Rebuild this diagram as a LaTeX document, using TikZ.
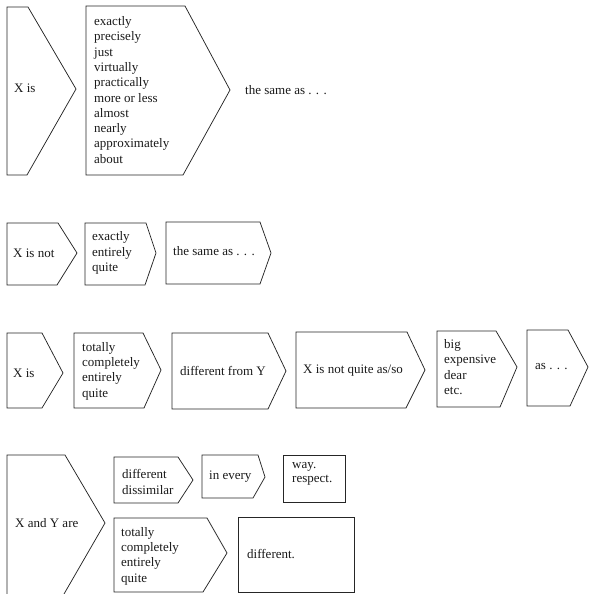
\documentclass[tikz,border=0pt]{standalone}
\usepackage{fontspec}
\setmainfont{Liberation Serif}
\usepackage{tikz}

\begin{document}
\begin{tikzpicture}[
	x=1pt, y=-1pt,
	font=\fontsize{13}{15.3}\selectfont,
	chevron/.style={draw=black!85, line width=0.75pt, line join=miter},
	word/.style={anchor=west, align=left, inner sep=0pt, text=black!90}
	]
	\useasboundingbox (0,0) rectangle (589,594);
	%% ─── ROW 1: X is ... the same as ──────────────────────────────────────
	\draw[chevron] (7,7) -- (28,7) -- (76,89) -- (27,175) -- (7,175) -- cycle;
	\draw[chevron] (86,6) -- (185,6) -- (230,90) -- (183,175) -- (86,175) -- cycle;
	\node[word] (xis1) at (14,88) {X is};
	\node[word] (adv1) at (94,90) {exactly\\precisely\\just\\virtually\\practically\\more or less\\almost\\nearly\\approximately\\about};
	\node[word] (same1) at (245,90) {the same as . . .};
	
	%% ─── ROW 2: X is not ... ──────────────────────────────────────────────
	\draw[chevron] (7,223) -- (58,223) -- (77,253) -- (57,285) -- (7,285) -- cycle;
	\draw[chevron] (85,223) -- (146,223) -- (156,253) -- (145,285) -- (85,285) -- cycle;
	\draw[chevron] (166,222) -- (260,222) -- (271,253) -- (260,284) -- (166,284) -- cycle;
	\node[word] (xisnot2) at (13,253) {X is not};
	\node[word] (adv2) at (92,253) {exactly\\entirely\\quite};
	\node[word] (same2) at (173,251) {the same as . . .};
	
	%% ─── ROW 3: X is different from Y ─────────────────────────────────────
	\draw[chevron] (7,333) -- (42,333) -- (63,373) -- (42,408) -- (7,408) -- cycle;
	\draw[chevron] (74,333) -- (143,333) -- (161,370) -- (144,408) -- (74,408) -- cycle;
	\draw[chevron] (172,333) -- (268,333) -- (286,371) -- (268,409) -- (172,409) -- cycle;
	\draw[chevron] (296,332) -- (407,332) -- (425,370) -- (406,408) -- (296,408) -- cycle;
	\draw[chevron] (437,331) -- (496,331) -- (517,367) -- (500,407) -- (437,407) -- cycle;
	\draw[chevron] (527,330) -- (568,330) -- (588,367) -- (570,406) -- (527,406) -- cycle;
	\node[word] (xis3) at (13,373) {X is};
	\node[word] (adv3) at (82,371) {totally\\completely\\entirely\\quite};
	\node[word] (diff3) at (180,371) {different from Y};
	\node[word] (notas3) at (303,371) {X is not quite as/so};
	\node[word] (adj3) at (444,367) {big\\expensive\\dear\\etc.};
	\node[word] (as3) at (535,367) {as . . .};
	
	%% ─── ROW 4: X and Y are ───────────────────────────────────────────────
	\draw[chevron] (7,594) -- (7,455) -- (65,455) -- (105,523) -- (64,594);
	\draw[chevron] (114,457) -- (178,457) -- (193,480) -- (178,503) -- (114,503) -- cycle;
	\draw[chevron] (202,455) -- (258,455) -- (265,477) -- (253,498) -- (202,498) -- cycle;
	\draw[chevron] (283,455) rectangle (345,502);
	\draw[chevron] (114,518) -- (207,518) -- (227,553) -- (203,592) -- (114,592) -- cycle;
	\draw[chevron] (238,517) rectangle (354,592);
	\node[word] (xy4) at (15,523) {X and Y are};
	\node[word] (dis4) at (122,482) {different\\dissimilar};
	\node[word] (every4) at (209,477) {in every};
	\node[word, font=\fontsize{13}{13.5}\selectfont] (way4) at (292,474) {way.\\respect.};
	\node[word] (adv4) at (121,556) {totally\\completely\\entirely\\quite};
	\node[word] (diff4) at (247,554) {different.};
\end{tikzpicture}
\end{document}
